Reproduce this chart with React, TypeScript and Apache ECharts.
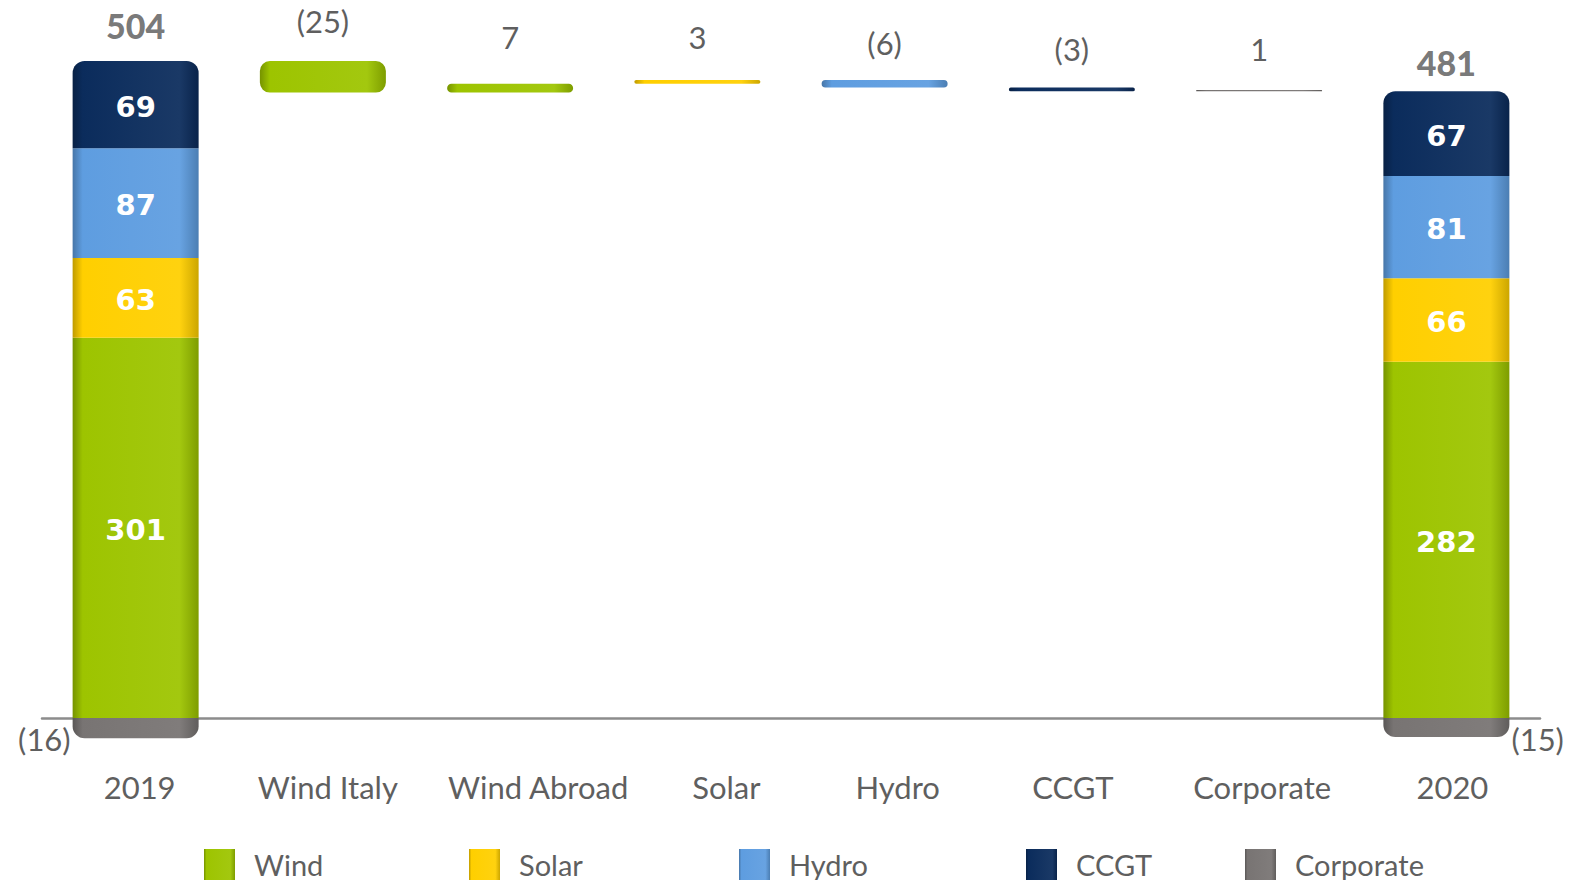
import React, { useEffect, useRef } from "react";
import * as echarts from "echarts";

const categories = ["2019", "Wind Italy", "Wind Abroad", "Solar", "Hydro", "CCGT", "Corporate", "2020"];
const segmentNames = ["Wind", "Solar", "Hydro", "CCGT"];
const start2019 = [301, 63, 87, 69];
const end2020 = [282, 66, 81, 67];
const corporate2019 = -16;
const corporate2020 = -15;
const deltas = [-25, 7, 3, -6, -3, 1];
const deltaSegment = ["Wind", "Wind", "Solar", "Hydro", "CCGT", "Corporate"];
const netTotals = [504, 481];
const legendNames = ["Wind", "Solar", "Hydro", "CCGT", "Corporate"];

const COLORS: Record<string, string> = {
  Wind: "#9dc400",
  Solar: "#ffcf00",
  Hydro: "#5e9de0",
  CCGT: "#0b2c5c",
  Corporate: "#787473",
};
const legendLeft = [204, 469, 739, 1026, 1245];
const deltaLabelShift = [-2, -9, -5, 1, -1, -4];
const categoryLabelShift = [4, 5, 28, 29, 13, 1, 3, 6];
const GRAY = "#5f5f5f";

function shade(hex: string, f: number) {
  const n = parseInt(hex.slice(1), 16);
  let r = (n >> 16) & 255, g = (n >> 8) & 255, b = n & 255;
  const adj = (c: number) => Math.max(0, Math.min(255, Math.round(f < 0 ? c * (1 + f) : c + (255 - c) * f)));
  r = adj(r); g = adj(g); b = adj(b);
  return "#" + ((1 << 24) + (r << 16) + (g << 8) + b).toString(16).slice(1);
}
function grad(hex: string) {
  return {
    type: "linear", x: 0, y: 0, x2: 1, y2: 0,
    colorStops: [
      { offset: 0, color: shade(hex, -0.25) },
      { offset: 0.08, color: hex },
      { offset: 0.85, color: shade(hex, 0.06) },
      { offset: 1, color: shade(hex, -0.2) },
    ],
  };
}

export default function App() {
  const ref = useRef<HTMLDivElement>(null);
  useEffect(() => {
    if (!ref.current) return;
    const chart = echarts.init(ref.current, undefined, { renderer: "svg" });
    const n = categories.length;
    const last = n - 1;

    let running = start2019.reduce((a, b) => a + b, 0);
    const grossEnd = end2020.reduce((a, b) => a + b, 0);
    const base: any[] = new Array(n).fill("-");
    const change: any[] = new Array(n).fill("-");
    deltas.forEach((d, i) => {
      const idx = i + 1;
      const b = d < 0 ? running + d : running;
      base[idx] = b;
      change[idx] = {
        value: Math.abs(d),
        itemStyle: {
          color: grad(COLORS[deltaSegment[i]]),
          borderRadius: Math.min(10, Math.abs(d) * 1.2),
        },
        label: { formatter: d < 0 ? `(${-d})` : `${d}`, offset: [0, deltaLabelShift[i]] },
      };
      running += d;
    });

    const segSeries = segmentNames.map((name, si) => {
      const data: any[] = new Array(n).fill("-");
      data[0] = start2019[si];
      data[last] = end2020[si];
      return {
        name,
        type: "bar",
        stack: "s",
        barWidth: 126,
        data,
        itemStyle: {
          color: grad(COLORS[name]),
          borderRadius: si === segmentNames.length - 1 ? [12, 12, 0, 0] : 0,
        },
        label: {
          show: true,
          position: "inside",
          offset: [0, 2],
          color: "#ffffff",
          fontFamily: "DejaVu Sans",
          fontWeight: "bold",
          fontSize: 29,
        },
      };
    });

    const corpData: any[] = new Array(n).fill("-");
    corpData[0] = {
      value: corporate2019,
      label: { position: "left", distance: 2, offset: [0, 11] },
    };
    corpData[last] = {
      value: corporate2020,
      label: { position: "right", distance: 2, offset: [0, 12] },
    };

    const totalData: any[] = new Array(n).fill("-");
    totalData[0] = { value: start2019.reduce((a, b) => a + b, 0), label: { formatter: `${netTotals[0]}`, distance: 18 } };
    totalData[last] = { value: grossEnd, label: { formatter: `${netTotals[1]}`, distance: 12 } };

    const legends = legendNames.map((name, i) => ({
      data: [name],
      left: legendLeft[i],
      top: 849,
      padding: 0,
      icon: "rect",
      itemWidth: 31,
      itemHeight: 31,
      selectedMode: false,
      textStyle: { color: GRAY, fontFamily: "Lato", fontSize: 29, padding: [0, 0, 0, 14] },
    }));

    const catData = categories.map((c, i) => ({
      value: c,
      textStyle: { padding: [0, 0, 0, categoryLabelShift[i] * 2] },
    }));

    chart.setOption({
      animation: false,
      backgroundColor: "#ffffff",
      legend: legends,
      grid: { left: 42, right: 40, top: 10.44, bottom: 119.46 },
      xAxis: {
        type: "category",
        data: catData,
        axisLine: { onZero: true, lineStyle: { color: "#8c8c8c", width: 2.5 } },
        axisTick: { show: false },
        axisLabel: { color: GRAY, fontFamily: "Lato", fontSize: 31, margin: 3, interval: 0 },
      },
      yAxis: { type: "value", min: -40, max: 560, show: false, splitLine: { show: false } },
      series: [
        {
          name: "base",
          type: "bar",
          stack: "s",
          barWidth: 126,
          data: base,
          itemStyle: { color: "transparent" },
          silent: true,
        },
        ...segSeries,
        {
          name: "Corporate",
          type: "bar",
          stack: "s",
          barWidth: 126,
          data: corpData,
          itemStyle: { color: grad(COLORS.Corporate), borderRadius: [0, 0, 12, 12] },
          label: {
            show: true,
            color: GRAY,
            fontFamily: "Lato",
            fontSize: 31,
            formatter: (p: any) => `(${-p.value})`,
          },
        },
        {
          name: "change",
          type: "bar",
          stack: "s",
          barWidth: 126,
          data: change,
          label: { show: true, position: "top", distance: 22, color: GRAY, fontFamily: "Lato", fontSize: 31 },
        },
        {
          name: "total",
          type: "scatter",
          symbolSize: 0,
          data: totalData,
          z: 10,
          label: { show: true, position: "top", color: "#555555", fontFamily: "Lato", fontWeight: 900, fontSize: 34 },
        },
      ],
    });
    return () => chart.dispose();
  }, []);
  return <div ref={ref} style={{ width: 1580, height: 888, margin: -8 }} />;
}
